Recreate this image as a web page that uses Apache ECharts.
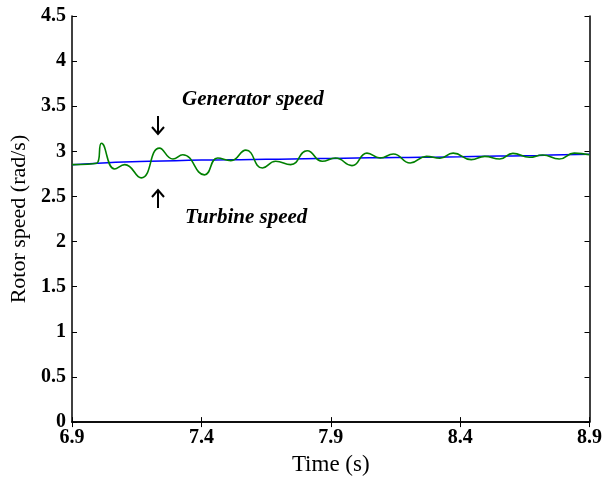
<!DOCTYPE html>
<html>
<head>
<meta charset="utf-8">
<script src="https://cdn.jsdelivr.net/npm/echarts@6/dist/echarts.min.js"></script>
<style>
  html, body { margin: 0; padding: 0; background: #fff; }
  #chart { width: 605px; height: 481px; }
</style>
</head>
<body>
<div id="chart"></div>
<script>
// 时间轴刻度
const xTicks = [6.9, 7.4, 7.9, 8.4, 8.9];

// 涡轮转速（蓝线）
const turbineTime = [6.9, 7.0, 7.1, 7.2, 7.3, 7.4, 7.5, 7.6, 7.7, 7.8, 7.9, 8.0, 8.1, 8.2, 8.3, 8.4, 8.5, 8.6, 8.7, 8.8, 8.9];
const turbineSpeed = [2.853, 2.868, 2.882, 2.89, 2.897, 2.903, 2.906, 2.91, 2.913, 2.918, 2.922, 2.926, 2.93, 2.933, 2.936, 2.94, 2.945, 2.95, 2.955, 2.962, 2.968];

// 发电机转速（绿线）
const genTime = [6.9, 6.995, 7.014, 7.065, 7.104, 7.168, 7.238, 7.29, 7.328, 7.412, 7.463, 7.514, 7.572, 7.636, 7.687, 7.745, 7.809, 7.867, 7.918, 7.982, 8.04, 8.091, 8.142, 8.207, 8.27, 8.322, 8.373, 8.443, 8.495, 8.553, 8.604, 8.668, 8.719, 8.783, 8.841, 8.9];
const genSpeed = [2.853, 2.868, 3.09, 2.805, 2.853, 2.706, 3.036, 2.915, 2.963, 2.74, 2.926, 2.897, 3.014, 2.816, 2.89, 2.853, 3.007, 2.89, 2.926, 2.842, 2.981, 2.926, 2.97, 2.871, 2.945, 2.923, 2.981, 2.908, 2.945, 2.915, 2.978, 2.934, 2.959, 2.915, 2.981, 2.963];

const font = '"Liberation Serif", "DejaVu Serif", serif';

const tickStyle = { show: true, inside: true, length: 5, lineStyle: { color: '#000', width: 1 } };
const lineStyle = { show: true, lineStyle: { color: '#000', width: 1.5 } };

// 箭头（注释用）
function arrow(x, y1, y2) {
  const dir = y2 > y1 ? 1 : -1;
  return [
    { type: 'line', shape: { x1: x, y1: y1, x2: x, y2: y2 }, style: { stroke: '#000', lineWidth: 2 } },
    { type: 'polyline', shape: { points: [[x - 6, y2 - dir * 7], [x, y2], [x + 6, y2 - dir * 7]] }, style: { stroke: '#000', lineWidth: 2, fill: null } }
  ];
}

const option = {
  animation: false,
  backgroundColor: '#fff',
  grid: { left: 72, right: 13, top: 16, bottom: 56 },
  xAxis: [
    {
      type: 'value',
      min: 6.9,
      max: 8.9,
      interval: 0.5,
      name: 'Time (s)',
      nameLocation: 'middle',
      nameGap: 28,
      nameTextStyle: { fontFamily: font, fontSize: 23, color: '#000' },
      axisLine: lineStyle,
      axisTick: tickStyle,
      splitLine: { show: false },
      axisLabel: {
        fontFamily: font, fontSize: 20, fontWeight: 'bold', color: '#000', margin: 6,
        formatter: v => v.toFixed(1)
      }
    },
    {
      type: 'value',
      position: 'top',
      min: 6.9,
      max: 8.9,
      interval: 0.5,
      axisLine: lineStyle,
      axisTick: tickStyle,
      axisLabel: { show: false },
      splitLine: { show: false }
    }
  ],
  yAxis: [
    {
      type: 'value',
      min: 0,
      max: 4.5,
      interval: 0.5,
      name: 'Rotor speed (rad/s)',
      nameLocation: 'middle',
      nameGap: 37,
      nameTextStyle: { fontFamily: font, fontSize: 22, color: '#000' },
      axisLine: lineStyle,
      axisTick: tickStyle,
      splitLine: { show: false },
      axisLabel: {
        fontFamily: font, fontSize: 20, fontWeight: 'bold', color: '#000', margin: 6,
        formatter: v => String(v)
      }
    },
    {
      type: 'value',
      position: 'right',
      min: 0,
      max: 4.5,
      interval: 0.5,
      axisLine: lineStyle,
      axisTick: tickStyle,
      axisLabel: { show: false },
      splitLine: { show: false }
    }
  ],
  series: [
    {
      name: 'Turbine speed',
      type: 'line',
      showSymbol: false,
      smooth: true,
      data: turbineTime.map((t, i) => [t, turbineSpeed[i]]),
      lineStyle: { color: '#0000ff', width: 1.5 },
      z: 2
    },
    {
      name: 'Generator speed',
      type: 'line',
      showSymbol: false,
      smooth: 0.5,
      data: genTime.map((t, i) => [t, genSpeed[i]]),
      lineStyle: { color: '#008000', width: 1.6 },
      z: 3
    }
  ],
  graphic: [
    {
      type: 'text', left: 182, top: 89,
      style: { text: 'Generator speed', font: 'italic bold 21px ' + font, fill: '#000' }
    },
    {
      type: 'text', left: 185, top: 207,
      style: { text: 'Turbine speed', font: 'italic bold 21px ' + font, fill: '#000' }
    }
  ].concat(arrow(158, 116, 134), arrow(158, 208, 190))
};

const myChart = echarts.init(document.getElementById('chart'), null, { renderer: 'canvas' });
myChart.setOption(option);
</script>
</body>
</html>
